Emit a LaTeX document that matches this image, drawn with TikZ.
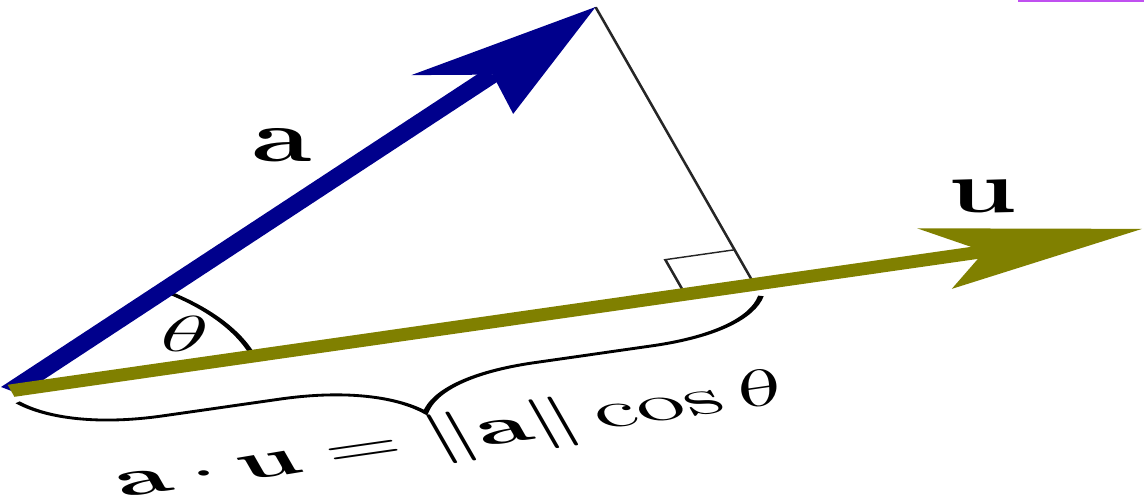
\documentclass[tikz,border=0pt]{standalone}
\usepackage{amsmath}
\usepackage{tikz}
\usetikzlibrary{arrows.meta, calc, angles, decorations.pathreplacing, positioning}
\definecolor{vecblue}{HTML}{00008C}
\definecolor{vecolive}{HTML}{808000}
\definecolor{linkpurple}{HTML}{C050F0}
\tikzset{
  vecA/.style={line width=0.125cm, draw=vecblue,
               -{Stealth[length=1.1cm, width=0.64cm, inset=0.25cm, line width=0pt]}},
  vecU/.style={line width=0.125cm, draw=vecolive,
               -{Stealth[length=1.08cm, width=0.63cm, inset=0.26cm, line width=0pt]}},
  veclabel/.style={font=\fontsize{21.5}{24}\selectfont, xscale=0.75,
                   transform shape, inner sep=0pt},
  mathlabel/.style={font=\fontsize{13.6}{16}\selectfont, inner sep=0pt},
  thinline/.style={line width=0.4pt, draw=black!85},
  ubrace/.style={decorate, line width=0.8pt,
                 decoration={brace, mirror, amplitude=0.66cm, raise=0.12cm}},
}

\begin{document}
\begin{tikzpicture}
  \useasboundingbox (0,0) rectangle (11.44,-4.99);
  % the whole figure is stretched to twice its width
  \begin{scope}[transform canvas={xscale=2}, x=0.005cm, y=-0.01cm]
    \coordinate (O) at (11,391);
    \coordinate (A) at (595,7);
    \coordinate (U) at (1141,229);
    \coordinate (F) at ($(O)!(A)!(U)$);
    \coordinate (Fo) at ($(F)!0.36cm!(O)$);
    \coordinate (Fa) at ($(F)!0.36cm!(A)$);

    \draw [ubrace] (O) -- (F);
    \draw [thinline] (A) -- (F);
    \draw [thinline] (Fo) -- ($(Fo)+(Fa)-(F)$) -- (Fa);
    \pic [draw, line width=0.8pt, angle radius=1.26cm] {angle=U--O--A};

    \draw [vecA] (O) -- (A);
    \draw [vecU] (O) -- (U);

    \node [veclabel] (alabel) at (281,145) {$\mathbf{a}$};
    \node [veclabel] (ulabel) at (982,196) {$\mathbf{u}$};
    \node [mathlabel] (theta) at (185,334) {$\theta$};
    \node [mathlabel, rotate=16] (proj) at (450,438)
      {$\mathbf{a}\cdot\mathbf{u} = \|\mathbf{a}\|\cos\theta$};

    \draw [linkpurple, line width=0.025cm] (1017,1) -- (1144,1);
  \end{scope}
\end{tikzpicture}
\end{document}
